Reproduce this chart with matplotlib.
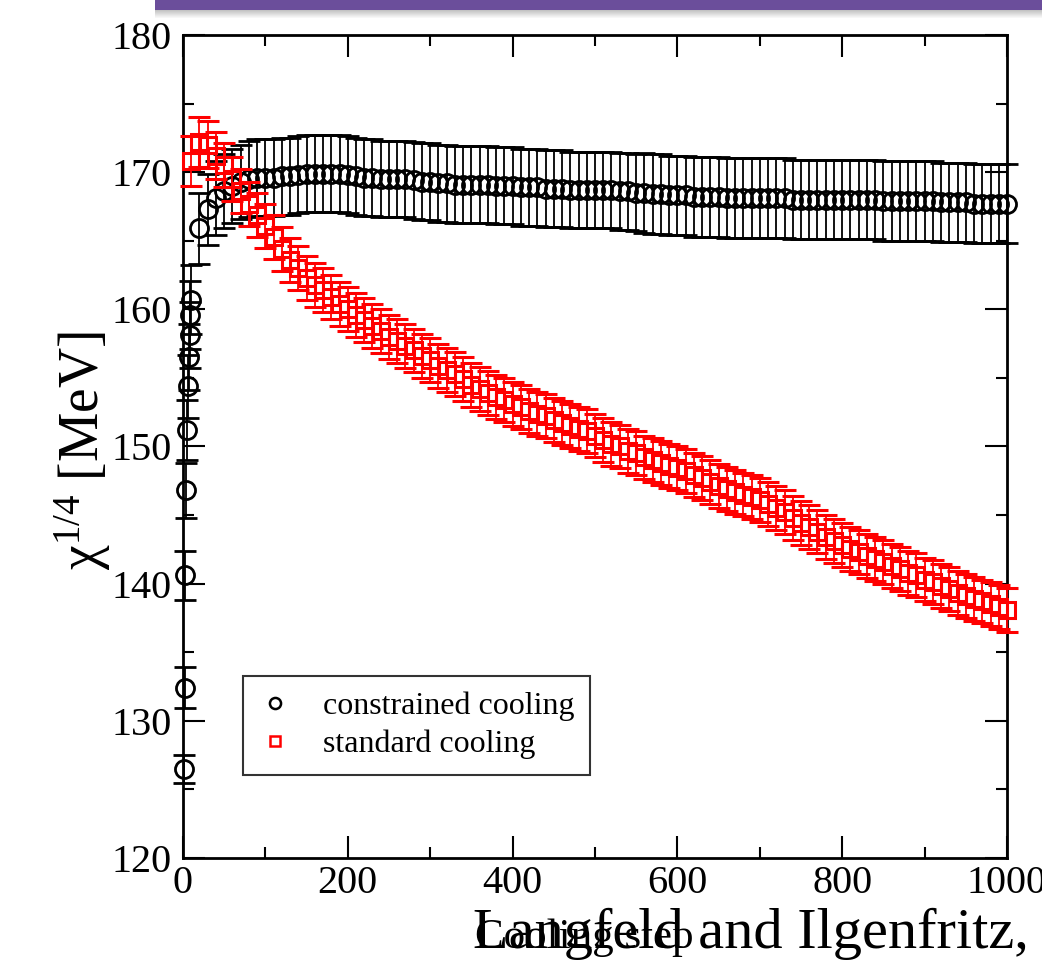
import matplotlib
matplotlib.use('Agg')
import matplotlib.pyplot as plt
from matplotlib.lines import Line2D
from matplotlib.patches import Rectangle
from matplotlib.ticker import MultipleLocator

plt.rcParams['font.family'] = ['Liberation Serif', 'DejaVu Serif']
plt.rcParams['mathtext.fontset'] = 'custom'
plt.rcParams['mathtext.rm'] = 'Liberation Serif'
plt.rcParams['mathtext.it'] = 'Liberation Serif:italic'

# ---- data -------------------------------------------------------------
constrained_steps = [1, 2, 3, 4, 5, 6, 7, 8, 9, 10,
                     20, 30, 40, 50, 60, 70, 80, 90, 100,
                     110, 120, 130, 140, 150, 160, 170, 180, 190, 200,
                     210, 220, 230, 240, 250, 260, 270, 280, 290, 300,
                     310, 320, 330, 340, 350, 360, 370, 380, 390, 400,
                     410, 420, 430, 440, 450, 460, 470, 480, 490, 500,
                     510, 520, 530, 540, 550, 560, 570, 580, 590, 600,
                     610, 620, 630, 640, 650, 660, 670, 680, 690, 700,
                     710, 720, 730, 740, 750, 760, 770, 780, 790, 800,
                     810, 820, 830, 840, 850, 860, 870, 880, 890, 900,
                     910, 920, 930, 940, 950, 960, 970, 980, 990, 1000]
constrained_chi = [126.5, 132.4, 140.6, 146.8, 151.2, 154.4, 156.5, 158.1, 159.6, 160.7,
                   165.9, 167.3, 168.1, 168.6, 169.0, 169.3, 169.5, 169.6, 169.6,
                   169.6, 169.7, 169.7, 169.8, 169.9, 169.9, 169.9, 169.9, 169.9, 169.8,
                   169.7, 169.6, 169.6, 169.5, 169.5, 169.5, 169.5, 169.4, 169.3, 169.3,
                   169.2, 169.2, 169.1, 169.1, 169.1, 169.1, 169.1, 169.0, 169.0, 169.0,
                   168.9, 168.9, 168.9, 168.8, 168.8, 168.8, 168.7, 168.7, 168.7, 168.7,
                   168.7, 168.7, 168.6, 168.6, 168.5, 168.5, 168.4, 168.4, 168.3, 168.3,
                   168.3, 168.2, 168.2, 168.2, 168.2, 168.1, 168.1, 168.1, 168.1, 168.1,
                   168.1, 168.1, 168.1, 168.0, 168.0, 168.0, 168.0, 168.0, 168.0, 168.0,
                   168.0, 168.0, 168.0, 168.0, 167.9, 167.9, 167.9, 167.9, 167.9, 167.9,
                   167.9, 167.8, 167.8, 167.8, 167.8, 167.7, 167.7, 167.7, 167.7, 167.7]
constrained_err = [1.0, 1.5, 1.8, 2.0, 2.2, 2.3, 2.4, 2.4, 2.5, 2.5,
                   2.6, 2.6, 2.7, 2.7, 2.7, 2.7, 2.8, 2.8, 2.8,
                   2.8, 2.8, 2.8, 2.8, 2.8, 2.8, 2.8, 2.8, 2.8, 2.8,
                   2.8, 2.8, 2.8, 2.8, 2.8, 2.8, 2.8, 2.8, 2.8, 2.8,
                   2.8, 2.8, 2.8, 2.8, 2.8, 2.8, 2.8, 2.8, 2.8, 2.8,
                   2.8, 2.8, 2.8, 2.8, 2.8, 2.8, 2.8, 2.8, 2.8, 2.8,
                   2.8, 2.8, 2.8, 2.8, 2.8, 2.9, 2.9, 2.9, 2.9, 2.9,
                   2.9, 2.9, 2.9, 2.9, 2.9, 2.9, 2.9, 2.9, 2.9, 2.9,
                   2.9, 2.9, 2.9, 2.9, 2.9, 2.9, 2.9, 2.9, 2.9, 2.9,
                   2.9, 2.9, 2.9, 2.9, 2.9, 2.9, 2.9, 2.9, 2.9, 2.9,
                   2.9, 2.9, 2.9, 2.9, 2.9, 2.9, 2.9, 2.9, 2.9, 2.9]

standard_steps = [10, 20, 30, 40, 50, 60, 70, 80, 90, 100,
                  110, 120, 130, 140, 150, 160, 170, 180, 190, 200,
                  210, 220, 230, 240, 250, 260, 270, 280, 290, 300,
                  310, 320, 330, 340, 350, 360, 370, 380, 390, 400,
                  410, 420, 430, 440, 450, 460, 470, 480, 490, 500,
                  510, 520, 530, 540, 550, 560, 570, 580, 590, 600,
                  610, 620, 630, 640, 650, 660, 670, 680, 690, 700,
                  710, 720, 730, 740, 750, 760, 770, 780, 790, 800,
                  810, 820, 830, 840, 850, 860, 870, 880, 890, 900,
                  910, 920, 930, 940, 950, 960, 970, 980, 990, 1000]
standard_chi = [170.8, 172.2, 172.0, 171.2, 170.5, 169.5, 168.6, 167.7, 166.9, 166.1,
                165.3, 164.4, 163.6, 163.0, 162.3, 161.8, 161.4, 160.9, 160.4, 160.0,
                159.6, 159.2, 158.8, 158.4, 158.0, 157.7, 157.3, 157.0, 156.6, 156.3,
                155.9, 155.6, 155.3, 154.9, 154.5, 154.2, 153.9, 153.6, 153.4, 153.1,
                152.9, 152.6, 152.4, 152.2, 151.9, 151.7, 151.5, 151.3, 151.1, 150.8,
                150.5, 150.2, 150.0, 149.7, 149.5, 149.2, 149.0, 148.8, 148.6, 148.4,
                148.2, 147.9, 147.7, 147.4, 147.1, 146.9, 146.7, 146.5, 146.3, 146.1,
                145.8, 145.5, 145.2, 144.8, 144.4, 144.1, 143.8, 143.4, 143.1, 142.8,
                142.5, 142.3, 142.0, 141.8, 141.6, 141.3, 141.1, 140.8, 140.6, 140.3,
                140.1, 139.8, 139.6, 139.3, 139.1, 138.9, 138.7, 138.5, 138.3, 138.1]
standard_err = [1.8, 1.8, 1.7, 1.7, 1.6, 1.6, 1.6, 1.6, 1.6, 1.6,
                1.6, 1.6, 1.6, 1.6, 1.6, 1.6, 1.6, 1.6, 1.6, 1.6,
                1.6, 1.6, 1.6, 1.6, 1.6, 1.6, 1.6, 1.6, 1.6, 1.6,
                1.6, 1.6, 1.6, 1.6, 1.6, 1.6, 1.6, 1.6, 1.6, 1.6,
                1.6, 1.6, 1.6, 1.6, 1.6, 1.6, 1.6, 1.6, 1.6, 1.6,
                1.6, 1.6, 1.6, 1.6, 1.6, 1.6, 1.6, 1.6, 1.6, 1.6,
                1.6, 1.6, 1.6, 1.6, 1.6, 1.6, 1.6, 1.6, 1.6, 1.6,
                1.6, 1.6, 1.6, 1.6, 1.6, 1.6, 1.6, 1.6, 1.6, 1.6,
                1.6, 1.6, 1.6, 1.6, 1.6, 1.6, 1.6, 1.6, 1.6, 1.6,
                1.6, 1.6, 1.6, 1.6, 1.6, 1.6, 1.6, 1.6, 1.6, 1.6]

series_labels = ['constrained cooling', 'standard cooling']
x_ticks = [0, 200, 400, 600, 800, 1000]
y_ticks = [120, 130, 140, 150, 160, 170, 180]

# ---- figure -----------------------------------------------------------
fig = plt.figure(figsize=(10.42, 9.6), dpi=100)

# slide header bar with a soft drop shadow
for i in range(8):
    fig.patches.append(Rectangle((0.149, 0.9896 - (i + 1) * 0.0011), 0.851, 0.0011,
                                 transform=fig.transFigure, color='#555555',
                                 alpha=0.35 * (1 - i / 8), lw=0))
fig.patches.append(Rectangle((0.149, 0.9896), 0.851, 0.0104,
                             transform=fig.transFigure, color='#6b4e9b', lw=0))

ax = fig.add_axes([0.1756, 0.10625, 0.7908, 0.8573])

c1 = ax.errorbar(constrained_steps, constrained_chi, yerr=constrained_err, fmt='o',
                 mfc='none', mec='black', ms=13, mew=2.0, ecolor='black',
                 elinewidth=1.3, capsize=8, capthick=1.3, zorder=2)
c2 = ax.errorbar(standard_steps, standard_chi, yerr=standard_err, fmt='s',
                 mfc='none', mec='#ff0000', ms=12, mew=2.2, ecolor='#ff0000',
                 elinewidth=1.3, capsize=8, capthick=1.3, zorder=3)
for cont in (c1, c2):
    for art in cont.get_children():
        art.set_clip_on(False)

ax.set_xlim(0, 1000)
ax.set_ylim(120, 180)
ax.set_xticks(x_ticks)
ax.set_yticks(y_ticks)
ax.xaxis.set_minor_locator(MultipleLocator(100))
ax.yaxis.set_minor_locator(MultipleLocator(5))
ax.tick_params(which='both', direction='in', top=True, right=True, width=1.5)
ax.tick_params(which='major', length=16)
ax.tick_params(which='minor', length=8)
ax.tick_params(axis='x', labelsize=29, pad=5)
ax.tick_params(axis='y', labelsize=29, pad=8)
for sp in ax.spines.values():
    sp.set_linewidth(2.0)

handles = [Line2D([], [], ls='none', marker='o', mfc='none', mec='black', ms=8, mew=1.8),
           Line2D([], [], ls='none', marker='s', mfc='none', mec='#ff0000', ms=7, mew=1.8)]
leg = ax.legend(handles, series_labels, loc='lower left', bbox_to_anchor=(0.073, 0.101),
                frameon=True, fancybox=False, edgecolor='black', fontsize=23,
                borderpad=0.5, handlelength=1.0, handletextpad=1.0,
                labelspacing=0.25, borderaxespad=0)
leg.get_frame().set_linewidth(1.5)

# axis titles
fig.text(0.079, 0.531, r'$\mathrm{\chi}^{1/4}$ [MeV]', rotation=90,
         ha='center', va='center', fontsize=40)
ax.set_xlabel('Cooling step', fontsize=31)
ax.xaxis.set_label_coords(0.561, 0.0125, transform=fig.transFigure)
ax.xaxis.label.set_va('baseline')

fig.text(0.454, 0.0125, 'Langfeld and Ilgenfritz,', fontsize=42,
         ha='left', va='baseline')

fig.savefig('out.png', dpi=100)
